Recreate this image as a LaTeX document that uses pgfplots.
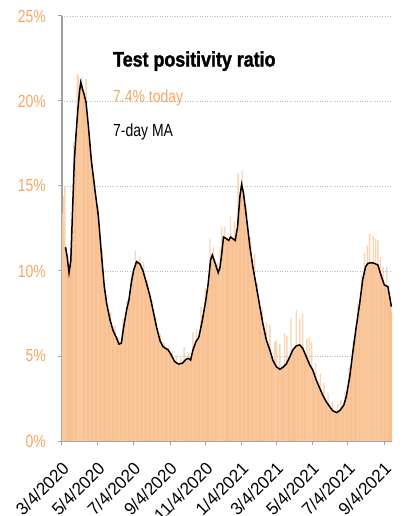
\documentclass[border=0pt]{standalone}
\usepackage{fontspec}
\setmainfont{Liberation Sans}[FakeStretch=0.8]
\newfontfamily\titlefont{Liberation Sans}[FakeStretch=0.85,FakeBold=1.5]
\newfontfamily\xfont{Liberation Sans}[FakeStretch=0.97]
\usepackage{pgfplots}
\pgfplotsset{compat=1.18}
\definecolor{areacol}{RGB}{249,193,145}
\definecolor{spikecol}{RGB}{250,204,166}
\definecolor{labor}{RGB}{245,166,98}
\definecolor{axgray}{RGB}{160,160,160}
\pgfplotstableread{
d v
0 12.5
2 13.0
4 11.5
6 11.4
9 10.8
12 9.9
15 10.6
18 13.6
21 16.5
24 18.1
27 19.5
30 20.6
32 21.1
35 20.7
38 20.35
41 19.9
45 18.5
50 16.5
56 14.8
62 13.2
67 11.05
72 9.1
76 8.1
82 7.1
87 6.5
93 6.05
97 5.7
101 5.75
105 6.7
110 7.7
114 8.3
118 9.3
122 10.05
127 10.55
133 10.4
138 10.0
144 9.27
150 8.5
155 7.7
161 6.7
167 5.9
172 5.55
181 5.35
186 5.06
192 4.67
198 4.53
205 4.57
211 4.8
215 4.86
219 4.76
223 5.35
228 5.84
233 6.1
239 7.1
245 8.3
249 9.27
253 10.65
256 10.94
260 10.55
266 9.9
269 10.2
272 11.0
275 12.0
280 11.9
284 11.8
287 12.0
291 11.9
295 11.8
299 12.6
303 14.4
306 15.1
309 14.6
314 13.2
320 11.43
325 10.25
331 9.08
337 7.9
342 6.92
348 5.94
354 5.35
359 4.76
365 4.37
371 4.22
376 4.33
382 4.53
388 4.96
393 5.35
399 5.6
405 5.65
410 5.45
416 4.96
422 4.47
427 4.18
433 3.59
439 3.1
444 2.7
450 2.31
456 2.02
461 1.78
468 1.67
474 1.82
480 2.12
484 2.6
490 3.78
495 5.16
501 6.7
507 8.1
512 9.47
517 10.25
521 10.45
527 10.49
532 10.45
538 10.35
544 9.67
549 9.18
555 9.08
558 8.5
561 7.8
562 7.4
}\daily
\pgfplotstableread{
d v
6 11.4
9 10.8
12 9.9
15 10.6
18 13.6
21 16.5
24 18.1
27 19.5
30 20.6
32 21.1
35 20.7
38 20.35
41 19.9
45 18.5
50 16.5
56 14.8
62 13.2
67 11.05
72 9.1
76 8.1
82 7.1
87 6.5
93 6.05
97 5.7
101 5.75
105 6.7
110 7.7
114 8.3
118 9.3
122 10.05
127 10.55
133 10.4
138 10.0
144 9.27
150 8.5
155 7.7
161 6.7
167 5.9
172 5.55
181 5.35
186 5.06
192 4.67
198 4.53
205 4.57
211 4.8
215 4.86
219 4.76
223 5.35
228 5.84
233 6.1
239 7.1
245 8.3
249 9.27
253 10.65
256 10.94
260 10.55
266 9.9
269 10.2
272 11.0
275 12.0
280 11.9
284 11.8
287 12.0
291 11.9
295 11.8
299 12.6
303 14.4
306 15.1
309 14.6
314 13.2
320 11.43
325 10.25
331 9.08
337 7.9
342 6.92
348 5.94
354 5.35
359 4.76
365 4.37
371 4.22
376 4.33
382 4.53
388 4.96
393 5.35
399 5.6
405 5.65
410 5.45
416 4.96
422 4.47
427 4.18
433 3.59
439 3.1
444 2.7
450 2.31
456 2.02
461 1.78
468 1.67
474 1.82
480 2.12
484 2.6
490 3.78
495 5.16
501 6.7
507 8.1
512 9.47
517 10.25
521 10.45
527 10.49
532 10.45
538 10.35
544 9.67
549 9.18
555 9.08
558 8.5
561 7.9
}\ma
\pgfplotstableread{
d v
1 13.4
3 14.4
5 15.0
20 17.6
26 21.6
28 21.5
31 21.2
34 21.4
41 21.3
48 17.5
55 15.5
62 13.8
69 11.2
76 8.6
83 7.6
90 6.8
97 6.1
104 7.2
111 8.3
118 9.8
125 11.2
132 10.8
139 10.5
146 9.5
153 8.3
160 7.3
167 6.3
174 5.8
181 5.6
188 5.3
195 5.0
202 4.9
208 5.55
216 5.2
223 6.4
229 6.6
237 7.9
244 9.0
252 11.9
258 11.4
265 10.5
269 11.4
272 12.6
277 12.6
287 13.2
294 12.9
300 15.75
307 15.9
314 13.8
321 12.0
328 11.04
333 9.3
341 7.8
348 7.0
354 6.8
362 5.84
365 5.9
371 5.7
379 6.33
383 6.2
390 7.2
399 7.7
405 7.2
410 7.5
417 6.0
421 6.1
425 5.84
432 4.57
440 3.98
446 3.4
453 2.8
461 2.3
470 2.2
475 2.4
482 2.9
489 4.3
496 5.94
504 8.1
510 9.8
515 11.04
520 11.5
524 12.2
530 12.1
534 11.9
538 11.8
542 10.8
547 10.25
553 10.25
}\spikes
\begin{document}
\begin{tikzpicture}
\begin{axis}[
  scale only axis, width=330pt, height=425pt,
  xmin=0, xmax=562, ymin=0, ymax=25,
  axis lines=left,
  axis line style={-, draw=axgray, line width=1.6pt},
  tick align=outside,
  major tick length=4pt,
  tick style={draw=axgray, line width=1pt},
  xtick={0,61,122,184,245,306,365,426,487,549},
  xticklabels={3/4/2020,5/4/2020,7/4/2020,9/4/2020,11/4/2020,1/4/2021,3/4/2021,5/4/2021,7/4/2021,9/4/2021},
  ytick={0,5,10,15,20,25},
  yticklabels={0\%,5\%,10\%,15\%,20\%,25\%},
  yticklabel style={font=\fontsize{17.5}{18}\selectfont, text=labor, anchor=east, inner sep=0pt, xshift=-12pt},
  xticklabel style={font=\xfont\fontsize{17.5}{18}\selectfont, inner sep=0pt, xshift=-1pt, yshift=-16pt, rotate=45, anchor=north east},
  ymajorgrids,
  major grid style={dash pattern=on 1pt off 1.5pt, line width=0.8pt, draw=gray!55},
]
\addplot[fill=areacol, draw=none] table[x=d, y=v] {\daily} \closedcycle;
\addplot[ybar, bar width=1.4pt, fill=spikecol, draw=none, fill opacity=0.85] table[x=d, y=v] {\spikes};
\addplot[black, line width=1.5pt] table[x=d, y=v] {\ma};
\node[anchor=base west, inner sep=0pt, font=\titlefont\bfseries\fontsize{21}{21}\selectfont] at (rel axis cs:0.1545,0.881) {Test positivity ratio};
\node[anchor=base west, font=\fontsize{17.5}{18}\selectfont, text=labor, inner sep=0pt] at (rel axis cs:0.1545,0.796) {7.4\% today};
\node[anchor=base west, font=\fontsize{17.5}{18}\selectfont, inner sep=0pt] at (rel axis cs:0.1545,0.7176) {7-day MA};
\coordinate (BL) at (rel axis cs:0,0);
\coordinate (TR) at (rel axis cs:1,1);
\end{axis}
\pgfresetboundingbox
\path ([xshift=-62pt,yshift=-75pt]BL) rectangle ([xshift=10pt,yshift=16pt]TR);
\end{tikzpicture}
\end{document}
